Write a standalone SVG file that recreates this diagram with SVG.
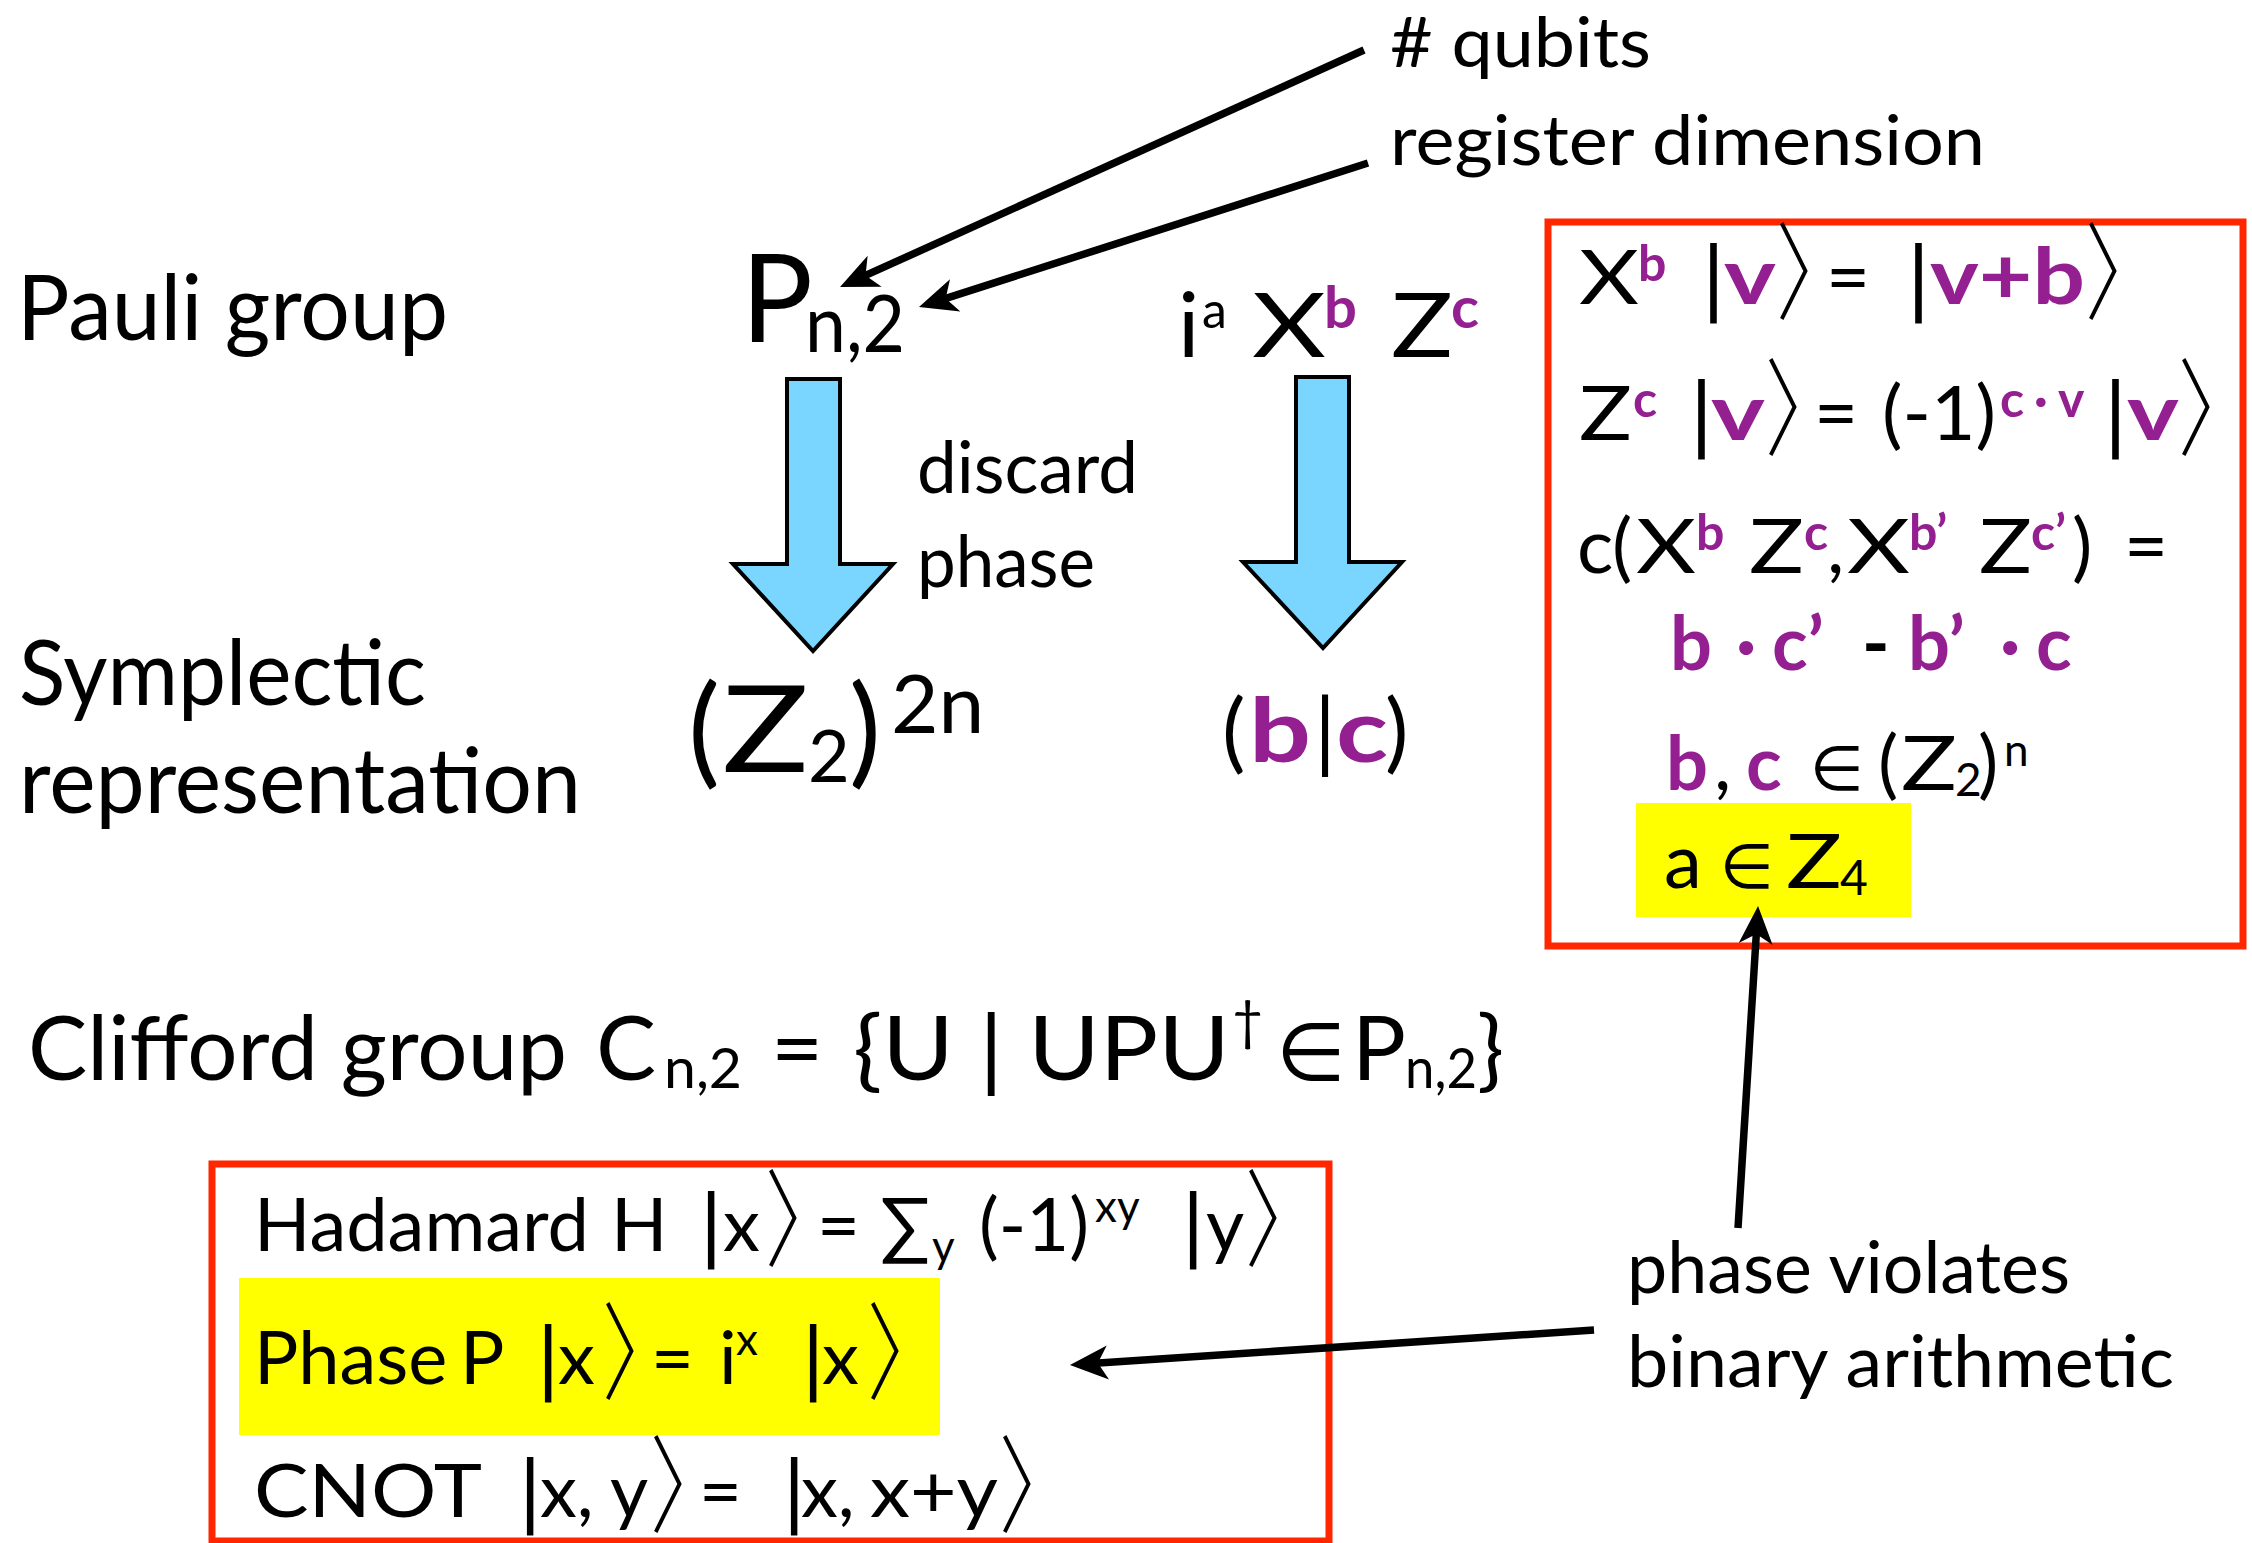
<svg xmlns="http://www.w3.org/2000/svg" width="2252" height="1543" viewBox="0 0 2252 1543">
<style>
text { font-family: Lato, "Open Sans", "DejaVu Sans", sans-serif; fill: #000; }
.m { font-family: "DejaVu Sans", sans-serif; }
.a { font-family: "Noto Sans CJK JP", "DejaVu Sans", sans-serif; font-weight: 300; font-size: 106px; }
.p { fill: #931F91; font-weight: bold; }
.red { fill: none; stroke: #FF2600; stroke-width: 7; }
.yel { fill: #FFFF00; }
.blk { fill: #7AD6FF; stroke: #000; stroke-width: 4; stroke-linejoin: miter; }
.ln { fill: none; stroke: #000; stroke-width: 7.5; }
</style>
<defs>
<marker id="ah" markerUnits="userSpaceOnUse" viewBox="-20 -22 50 44" refX="0" refY="0" markerWidth="50" markerHeight="44" orient="auto">
<path d="M25,0 L-13,-17 L-3,0 L-13,17 Z" fill="#000"/>
</marker>
</defs>
<rect width="2252" height="1543" fill="#fff"/>

<g id="labels">
<text x="17" y="340" font-size="92" textLength="431" lengthAdjust="spacingAndGlyphs">Pauli group</text>
<text x="19" y="705" font-size="92" textLength="407" lengthAdjust="spacingAndGlyphs">Symplectic</text>
<text x="19" y="813" font-size="92" textLength="562" lengthAdjust="spacingAndGlyphs">representation</text>
<text x="1390" y="67" font-size="70" textLength="261" lengthAdjust="spacingAndGlyphs"># qubits</text>
<text x="1390" y="165" font-size="70" textLength="595" lengthAdjust="spacingAndGlyphs">register dimension</text>
<text x="917" y="493" font-size="72" textLength="221" lengthAdjust="spacingAndGlyphs">discard</text>
<text x="917" y="587" font-size="72" textLength="178" lengthAdjust="spacingAndGlyphs">phase</text>
<text x="1627" y="1293" font-size="72" textLength="443" lengthAdjust="spacingAndGlyphs">phase violates</text>
<text x="1627" y="1387" font-size="72" textLength="547" lengthAdjust="spacingAndGlyphs">binary arithmetic</text>
</g>

<g id="pauli">
<text x="741" y="342" font-size="122" textLength="72" lengthAdjust="spacingAndGlyphs">P</text>
<text x="805" y="352" font-size="80" textLength="100" lengthAdjust="spacingAndGlyphs">n,2</text>
</g>

<g id="pauli-element">
<text y="357" font-size="89"><tspan x="1178">i</tspan><tspan x="1202" y="328" font-size="50">a</tspan><tspan x="1252" y="357" textLength="74" lengthAdjust="spacingAndGlyphs">X</tspan><tspan class="p" x="1324" y="328" font-size="58">b</tspan><tspan x="1391" y="357" textLength="62" lengthAdjust="spacingAndGlyphs">Z</tspan><tspan class="p" x="1451" y="328" font-size="58">c</tspan></text>
</g>

<g id="symplectic">
<text y="772" font-size="120"><tspan x="688">(</tspan><tspan x="722" textLength="87" lengthAdjust="spacingAndGlyphs">Z</tspan><tspan x="808" y="782" font-size="72">2</tspan><tspan x="849" y="772">)</tspan><tspan x="891" y="733" font-size="82">2n</tspan></text>
</g>

<g id="symplectic-element">
<text y="762" font-size="88"><tspan x="1222">(</tspan><tspan class="p" x="1249" textLength="62" lengthAdjust="spacingAndGlyphs">b</tspan><tspan x="1314">|</tspan><tspan class="p" x="1336" textLength="52" lengthAdjust="spacingAndGlyphs">c</tspan><tspan x="1385">)</tspan></text>
</g>

<g id="arrow-left">
<polygon class="blk" points="787,379 840,379 840,564 893,564 813,651 733,564 787,564"/>
</g>
<g id="arrow-right">
<polygon class="blk" points="1296,377 1349,377 1349,562 1402,562 1323,648 1243,562 1296,562"/>
</g>

<g id="rules-box">
<rect class="yel" x="1636" y="803" width="275" height="114"/>
<rect class="red" x="1548" y="222" width="695" height="724"/>
<text y="304" font-size="76"><tspan x="1579" textLength="60" lengthAdjust="spacingAndGlyphs">X</tspan><tspan class="p" x="1638" y="281" font-size="50">b</tspan><tspan class="m" x="1700" y="304" font-size="80">|</tspan><tspan class="p" x="1724" font-size="78" textLength="52" lengthAdjust="spacingAndGlyphs">v</tspan><tspan class="a" x="1776" y="311" textLength="80" lengthAdjust="spacingAndGlyphs">〉</tspan><tspan x="1826" y="304">=</tspan><tspan class="m" x="1905" font-size="80">|</tspan><tspan class="p" x="1930" font-size="78" textLength="155" lengthAdjust="spacingAndGlyphs">v+b</tspan><tspan class="a" x="2085" y="311" textLength="80" lengthAdjust="spacingAndGlyphs">〉</tspan></text>
<text y="440" font-size="76"><tspan x="1579" textLength="53" lengthAdjust="spacingAndGlyphs">Z</tspan><tspan class="p" x="1633" y="417" font-size="50">c</tspan><tspan class="m" x="1688" y="440" font-size="80">|</tspan><tspan class="p" x="1711" font-size="78" textLength="54" lengthAdjust="spacingAndGlyphs">v</tspan><tspan class="a" x="1765" y="447" textLength="80" lengthAdjust="spacingAndGlyphs">〉</tspan><tspan x="1814" y="440">=</tspan><tspan x="1882" textLength="114" lengthAdjust="spacingAndGlyphs">(-1)</tspan><tspan class="p" x="2000" y="417" font-size="50">c</tspan><tspan class="p" x="2034" y="417" font-size="50">·</tspan><tspan class="p" x="2058" y="417" font-size="50">v</tspan><tspan class="m" x="2102" y="440" font-size="80">|</tspan><tspan class="p" x="2127" font-size="78" textLength="52" lengthAdjust="spacingAndGlyphs">v</tspan><tspan class="a" x="2178" y="447" textLength="80" lengthAdjust="spacingAndGlyphs">〉</tspan></text>
<text y="573" font-size="76"><tspan x="1577">c</tspan><tspan x="1612">(</tspan><tspan x="1636" textLength="60" lengthAdjust="spacingAndGlyphs">X</tspan><tspan class="p" x="1696" y="550" font-size="50">b</tspan><tspan x="1749" y="573" textLength="55" lengthAdjust="spacingAndGlyphs">Z</tspan><tspan class="p" x="1804" y="550" font-size="50">c</tspan><tspan x="1827" y="573">,</tspan><tspan x="1847" textLength="63" lengthAdjust="spacingAndGlyphs">X</tspan><tspan class="p" x="1909" y="550" font-size="50">b’</tspan><tspan x="1979" y="573" textLength="53" lengthAdjust="spacingAndGlyphs">Z</tspan><tspan class="p" x="2031" y="550" font-size="50">c’</tspan><tspan x="2072" y="573">)</tspan><tspan x="2124">=</tspan></text>
<text y="670" font-size="74"><tspan class="p" x="1670">b</tspan><tspan class="p" x="1736">·</tspan><tspan class="p" x="1772">c’</tspan><tspan x="1862" font-weight="bold">-</tspan><tspan class="p" x="1908">b’</tspan><tspan class="p" x="2000">·</tspan><tspan class="p" x="2036">c</tspan></text>
<text y="790" font-size="76"><tspan class="p" x="1666" font-size="74">b</tspan><tspan x="1714">,</tspan><tspan class="p" x="1746" font-size="74">c</tspan><tspan class="m" x="1810" font-size="62">∈</tspan><tspan x="1878">(</tspan><tspan x="1901" textLength="56" lengthAdjust="spacingAndGlyphs">Z</tspan><tspan x="1955" y="796" font-size="46">2</tspan><tspan x="1978" y="790">)</tspan><tspan x="2004" y="766" font-size="44">n</tspan></text>
<text y="888" font-size="76"><tspan x="1664">a</tspan><tspan class="m" x="1720" font-size="62">∈</tspan><tspan x="1786" textLength="56" lengthAdjust="spacingAndGlyphs">Z</tspan><tspan x="1840" y="895" font-size="48">4</tspan></text>
</g>

<g id="clifford">
<text y="1080" font-size="90"><tspan x="28" textLength="539" lengthAdjust="spacingAndGlyphs">Clifford group</tspan><tspan x="596">C</tspan><tspan x="664" y="1088" font-size="56" textLength="78" lengthAdjust="spacingAndGlyphs">n,2</tspan><tspan x="771" y="1080">=</tspan><tspan x="853" textLength="377" lengthAdjust="spacingAndGlyphs">{U | UPU</tspan><tspan x="1232" y="1040" font-size="54">†</tspan><tspan class="m" x="1276" y="1080" font-size="80">∈</tspan><tspan x="1352">P</tspan><tspan x="1405" y="1088" font-size="56" textLength="72" lengthAdjust="spacingAndGlyphs">n,2</tspan><tspan x="1477" y="1080">}</tspan></text>
</g>

<g id="gates-box">
<rect class="yel" x="239" y="1278" width="701" height="157"/>
<rect class="red" x="212" y="1164" width="1117" height="377"/>
<text y="1251" font-size="74"><tspan x="254">Hadamard</tspan><tspan x="611">H</tspan><tspan class="m" x="698" font-size="78">|</tspan><tspan x="723">x</tspan><tspan class="a" x="765" y="1258" textLength="80" lengthAdjust="spacingAndGlyphs">〉</tspan><tspan x="817" y="1251">=</tspan><tspan x="880">∑</tspan><tspan x="932" y="1262" font-size="44">y</tspan><tspan x="979" y="1251" textLength="110" lengthAdjust="spacingAndGlyphs">(-1)</tspan><tspan x="1095" y="1222" font-size="44">xy</tspan><tspan class="m" x="1180" y="1251" font-size="78">|</tspan><tspan x="1206">y</tspan><tspan class="a" x="1245" y="1258" textLength="80" lengthAdjust="spacingAndGlyphs">〉</tspan></text>
<text y="1384" font-size="74"><tspan x="254">Phase</tspan><tspan x="460">P</tspan><tspan class="m" x="535" font-size="78">|</tspan><tspan x="558">x</tspan><tspan class="a" x="602" y="1391" textLength="80" lengthAdjust="spacingAndGlyphs">〉</tspan><tspan x="651" y="1384">=</tspan><tspan x="719">i</tspan><tspan x="736" y="1355" font-size="44">x</tspan><tspan class="m" x="800" y="1384" font-size="78">|</tspan><tspan x="822">x</tspan><tspan class="a" x="867" y="1391" textLength="80" lengthAdjust="spacingAndGlyphs">〉</tspan></text>
<text y="1517" font-size="74"><tspan x="254" textLength="228" lengthAdjust="spacingAndGlyphs">CNOT</tspan><tspan class="m" x="517" font-size="78">|</tspan><tspan x="540">x,</tspan><tspan x="610">y</tspan><tspan class="a" x="650" y="1524" textLength="80" lengthAdjust="spacingAndGlyphs">〉</tspan><tspan x="699" y="1517">=</tspan><tspan class="m" x="781" font-size="78">|</tspan><tspan x="801">x,</tspan><tspan x="870" textLength="128" lengthAdjust="spacingAndGlyphs">x+y</tspan><tspan class="a" x="999" y="1524" textLength="80" lengthAdjust="spacingAndGlyphs">〉</tspan></text>
</g>

<g id="connectors">
<line class="ln" x1="1364" y1="50" x2="862.8" y2="276.7" marker-end="url(#ah)"/>
<line class="ln" x1="1368" y1="163" x2="942.8" y2="299.4" marker-end="url(#ah)"/>
<line class="ln" x1="1594" y1="1330" x2="1094.9" y2="1363.3" marker-end="url(#ah)"/>
<line class="ln" x1="1738" y1="1228" x2="1756.5" y2="931" marker-end="url(#ah)"/>
</g>
</svg>
